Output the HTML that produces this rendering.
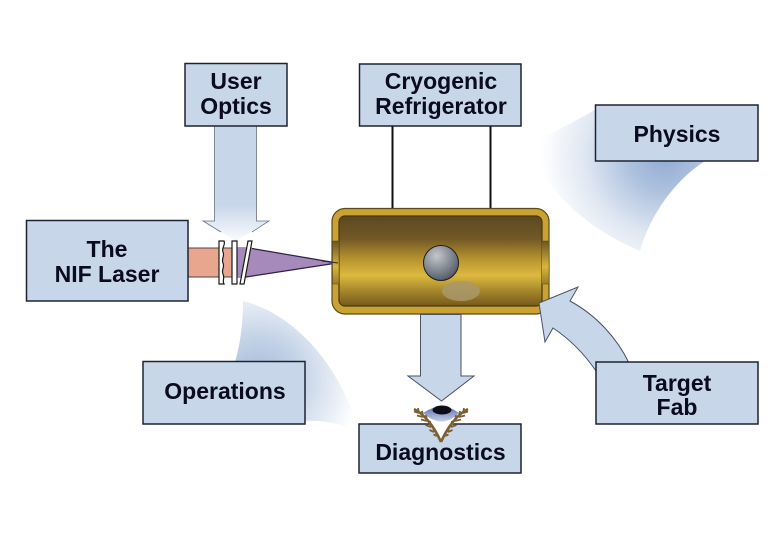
<!DOCTYPE html>
<html>
<head>
<meta charset="utf-8">
<style>
html,body{margin:0;padding:0;background:#fff;}
svg{display:block;}
text{font-family:"Liberation Sans",Arial,sans-serif;font-weight:bold;font-size:23px;fill:#0b0b1f;text-anchor:middle;}
.box{fill:#c8d6ea;stroke:#1c2433;stroke-width:1.5;}
.arr{fill:#c8d6ea;stroke:#4a5264;stroke-width:1;}
</style>
</head>
<body>
<svg width="780" height="540" viewBox="0 0 780 540" xmlns="http://www.w3.org/2000/svg">
<defs>
<radialGradient id="fan1" gradientUnits="userSpaceOnUse" cx="665" cy="155" r="124">
<stop offset="0" stop-color="#8fabd3"/>
<stop offset="0.3" stop-color="#aec2de"/>
<stop offset="0.65" stop-color="#dfe7f2"/>
<stop offset="1" stop-color="#ffffff"/>
</radialGradient>
<radialGradient id="fan2" gradientUnits="userSpaceOnUse" cx="258" cy="380" r="102">
<stop offset="0" stop-color="#a4bad9"/>
<stop offset="0.4" stop-color="#c2d1e6"/>
<stop offset="0.75" stop-color="#e6ecf5"/>
<stop offset="1" stop-color="#ffffff"/>
</radialGradient>
<linearGradient id="inner" x1="0" y1="0" x2="0" y2="1">
<stop offset="0" stop-color="#5c4822"/>
<stop offset="0.25" stop-color="#715826"/>
<stop offset="0.48" stop-color="#b8942f"/>
<stop offset="0.66" stop-color="#dcb93f"/>
<stop offset="0.82" stop-color="#a98a2c"/>
<stop offset="1" stop-color="#75591c"/>
</linearGradient>
<linearGradient id="side" x1="0" y1="0" x2="0" y2="1">
<stop offset="0" stop-color="#6b5426"/>
<stop offset="0.6" stop-color="#d8b53c"/>
<stop offset="1" stop-color="#9a7c28"/>
</linearGradient>
<radialGradient id="ball" cx="0.38" cy="0.3" r="0.75">
<stop offset="0" stop-color="#c4c7cc"/>
<stop offset="0.55" stop-color="#848a93"/>
<stop offset="1" stop-color="#50555f"/>
</radialGradient>
<linearGradient id="fade" gradientUnits="userSpaceOnUse" x1="0" y1="205" x2="0" y2="238">
<stop offset="0" stop-color="#c8d6ea"/>
<stop offset="1" stop-color="#f6f8fc"/>
</linearGradient>
<linearGradient id="eye" x1="0" y1="0" x2="0" y2="1">
<stop offset="0" stop-color="#5a6fb0"/>
<stop offset="1" stop-color="#c6d0ea"/>
</linearGradient>
</defs>

<!-- gradient fans -->
<path d="M596 109 C575 122 552 133 530 142 C540 185 580 225 640 251 C650 215 675 180 705 161 L596 161 Z" fill="url(#fan1)"/>
<path d="M243 301 C243 325 240 345 235 362 L305 362 L305 421 C325 420 342 424 358 432 C345 375 300 315 243 301 Z" fill="url(#fan2)"/>

<!-- vertical lines -->
<rect x="391.5" y="126" width="2" height="83" fill="#111"/>
<rect x="489.5" y="126" width="2" height="83" fill="#111"/>

<!-- user optics arrow -->
<path d="M214.500 126 L214.500 221 L203 221 L236 241 L269 221 L256.500 221 L256.500 126 Z" fill="url(#fade)"/>
<path d="M214.500 126 L214.500 221 L203 221 L221 232 M256.500 126 L256.500 221 L269 221 L252 232" fill="none" stroke="#6a7284" stroke-width="0.8"/>

<!-- laser beam -->
<rect x="188" y="248" width="46" height="29" fill="#e8a68e"/>
<path d="M188 248 H252 M188 277 H246" stroke="#5a3f4a" stroke-width="1" fill="none"/>
<path d="M232 248 L252 248 L337 263 L246 277 L232 277 Z" fill="#a68abc"/>
<path d="M252 248.500 L337 263 L246 277" fill="none" stroke="#2d1f45" stroke-width="1.200"/>

<!-- optics -->
<path d="M219 241 L224 241 C226 245 221 248 223 252 C225 256 221 259 223 263 C225 267 221 270 223 274 C225 278 222 281 224 284 L219 284 Z" fill="#fff" stroke="#1a1a1a" stroke-width="1.200"/>
<path d="M232 241 L237 241 L237 284 L232 284 Z" fill="#fff" stroke="#1a1a1a" stroke-width="1.200"/>
<path d="M248 241 L252 241 L244 284 L240 284 Z" fill="#fff" stroke="#1a1a1a" stroke-width="1.200"/>

<!-- chamber -->
<rect x="332" y="208.500" width="217" height="105.500" rx="13" fill="#c9a233" stroke="#5e4a14" stroke-width="1.200"/>
<rect x="339" y="216" width="203" height="90" rx="6" fill="url(#inner)" stroke="#4a3810" stroke-width="1.200"/>
<rect x="332.500" y="241" width="6.500" height="43" fill="url(#side)" stroke="#5e4a14" stroke-width="0.500"/>
<rect x="541.500" y="241" width="7.500" height="43" fill="url(#side)" stroke="#5e4a14" stroke-width="0.500"/>
<path d="M322 261 L338 263" stroke="#2d1f45" stroke-width="1"/>
<ellipse cx="461" cy="291" rx="19" ry="10" fill="#a9996a" opacity="0.85"/>
<circle cx="441" cy="263" r="17.500" fill="url(#ball)" stroke="#1d1d1d" stroke-width="1"/>

<!-- down arrow -->
<path class="arr" d="M420.500 314.500 L420.500 376 L408 376 L441.500 401 L474 376 L461 376 L461 314.500 Z"/>

<!-- curved arrow -->
<path class="arr" d="M539 303 L578 287 L570 301 C596 315 617 338 629 363 L596 371 C583 352 568 338 553 328 L545 342 Z"/>

<!-- boxes -->
<rect class="box" x="185" y="63.500" width="102" height="62.500"/>
<rect class="box" x="359.500" y="64" width="161.500" height="62"/>
<rect class="box" x="595.500" y="105" width="162.500" height="56"/>
<rect class="box" x="26.500" y="220.500" width="161.500" height="80.500"/>
<rect class="box" x="143" y="361.500" width="162" height="62.500"/>
<rect class="box" x="596" y="362" width="162" height="62"/>
<rect class="box" x="359" y="424" width="162" height="49"/>

<!-- eye and wheat -->
<path d="M422 413 Q442 398 461 413 L441 441 Z" fill="#fff"/>
<path d="M423 413 Q442 400 459 413 Q442 430 423 413 Z" fill="url(#eye)"/>
<ellipse cx="442" cy="410" rx="9.500" ry="4.500" fill="#0e0e18"/>
<g fill="none" stroke="#7d6030">
<path d="M414 409 C424 414 434 426 441 442" stroke-width="2.600"/>
<path d="M419 413 L418 408 M419 413 L414 411.500 M423 417 L422 411 M423 417 L417 415.500 M427 421 L426 415 M427 421 L421 419.500 M431 427 L430 421 M431 427 L425.500 425 M434 432 L433.500 427 M434 432 L429.500 430 M437 436 L436.500 432 M437 436 L433.500 434.500" stroke-width="1.800"/>
</g>
<g fill="none" stroke="#7d6030" transform="matrix(-1 0 0 1 882 0)">
<path d="M414 409 C424 414 434 426 441 442" stroke-width="2.600"/>
<path d="M419 413 L418 408 M419 413 L414 411.500 M423 417 L422 411 M423 417 L417 415.500 M427 421 L426 415 M427 421 L421 419.500 M431 427 L430 421 M431 427 L425.500 425 M434 432 L433.500 427 M434 432 L429.500 430 M437 436 L436.500 432 M437 436 L433.500 434.500" stroke-width="1.800"/>
</g>

<!-- labels -->
<text x="236" y="89">User</text>
<text x="236" y="114">Optics</text>
<text x="441" y="89">Cryogenic</text>
<text x="441" y="114">Refrigerator</text>
<text x="677" y="142">Physics</text>
<text x="107" y="257">The</text>
<text x="107" y="282">NIF Laser</text>
<text x="225" y="399">Operations</text>
<text x="677" y="391">Target</text>
<text x="677" y="415">Fab</text>
<text x="440.500" y="460">Diagnostics</text>
</svg>
</body>
</html>
